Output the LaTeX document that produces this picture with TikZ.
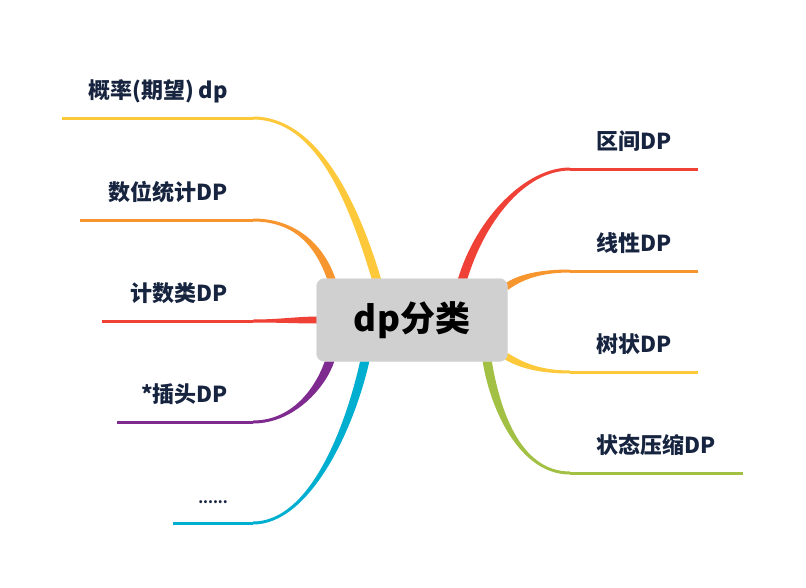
\documentclass[tikz,border=0pt]{standalone}
\usepackage{fontspec}
\setmainfont{Noto Sans CJK SC}
\usetikzlibrary{calc,backgrounds}
\definecolor{bred}{HTML}{EF4136}
\definecolor{borange}{HTML}{F7952F}
\definecolor{byellow}{HTML}{FDC83A}
\definecolor{bpurple}{HTML}{7F2A8F}
\definecolor{bcyan}{HTML}{00AECF}
\definecolor{bgreen}{HTML}{A1C044}
\definecolor{ink}{HTML}{17243F}
\definecolor{rootgray}{HTML}{D0D0D0}
% tapered limb: colour, start (under root), junction, c1 offset, c2 offset, half width at start (+ and -)
\newcommand{\limb}[7]{%
  \fill[#1] ([yshift=1.5pt]#3) .. controls +#4 and +#5 .. ([shift={#6}]#2)
    -- ([shift={#7}]#2) .. controls +#5 and +#4 .. ([yshift=-1.5pt]#3) -- cycle;}

\begin{document}
\begin{tikzpicture}[x=1pt,y=-1pt,
    leaf/.style={font=\bfseries\fontsize{22}{26}\selectfont,text=ink,inner sep=0pt},
    twig/.style={line width=3pt}]
      \useasboundingbox (0,0) rectangle (806,587);
      \node[fill=rootgray,draw=rootgray!80!white,rounded corners=8pt,minimum width=191pt,minimum height=83pt,
            font=\bfseries\fontsize{35}{40}\selectfont] (root) at (412,320) {dp分类};
      % left side
      \coordinate (j1) at (253,118); \coordinate (e1) at (62,118);
      \coordinate (j2) at (253,220); \coordinate (e2) at (80,220);
      \coordinate (j3) at (253,321); \coordinate (e3) at (102,321);
      \coordinate (j4) at (253,422); \coordinate (e4) at (117,422);
      \coordinate (j5) at (253,523); \coordinate (e5) at (173,523);
      % right side
      \coordinate (k1) at (570,169); \coordinate (f1) at (698,169);
      \coordinate (k2) at (570,271); \coordinate (f2) at (698,271);
      \coordinate (k3) at (570,372); \coordinate (f3) at (698,372);
      \coordinate (k4) at (570,473); \coordinate (f4) at (743,473);
      % starts under the root box
      \coordinate (s1) at ($(root)+(-35,-39)$);
      \coordinate (s2) at ($(root)+(-80,-39)$);
      \coordinate (s3) at ($(root)+(-93,0)$);
      \coordinate (s4) at ($(root)+(-82,40)$);
      \coordinate (s5) at ($(root)+(-47,40)$);
      \coordinate (t1) at ($(root)+(50,-39)$);
      \coordinate (t2) at ($(root)+(94,-33)$);
      \coordinate (t3) at ($(root)+(94,36)$);
      \coordinate (t4) at ($(root)+(75,40)$);
      \begin{scope}[on background layer]
      \limb{byellow}{s1}{j1}{(62,0)}{(-25,-84)}{(4.3,-1.3)}{(-4.3,1.3)}
      \limb{borange}{s2}{j2}{(42,0)}{(-12,-36)}{(3.8,-1.3)}{(-3.8,1.3)}
      \limb{bred}{s3}{j3}{(27,0)}{(-22,0)}{(0,-3.5)}{(0,3.5)}
      \limb{bpurple}{s4}{j4}{(42,0)}{(-8,25)}{(-4.3,-1.4)}{(4.3,1.4)}
      \limb{bcyan}{s5}{j5}{(57,0)}{(-15,68)}{(-4.4,-0.9)}{(4.4,0.9)}
      \limb{bred}{t1}{k1}{(-45,0)}{(18,-61)}{(-4.3,-1.3)}{(4.3,1.3)}
      \limb{borange}{t2}{k2}{(-30,0)}{(14,-10)}{(-2,-2.8)}{(2,2.8)}
      \limb{byellow}{t3}{k3}{(-30,0)}{(14,9)}{(1.9,-2.9)}{(-1.9,2.9)}
      \limb{bgreen}{t4}{k4}{(-50,0)}{(8,50)}{(4.5,-0.7)}{(-4.5,0.7)}
      \end{scope}
      \draw[twig,byellow] (e1) -- (j1);
      \draw[twig,borange] (e2) -- (j2);
      \draw[twig,bred]    (e3) -- (j3);
      \draw[twig,bpurple] (e4) -- (j4);
      \draw[twig,bcyan]   (e5) -- (j5);
      \draw[twig,bred]    (k1) -- (f1);
      \draw[twig,borange] (k2) -- (f2);
      \draw[twig,byellow] (k3) -- (f3);
      \draw[twig,bgreen]  (k4) -- (f4);
      \node[leaf,anchor=base east] (l1) at ($(j1)+(-25,-20)$) {概率(期望) dp};
      \node[leaf,anchor=base east] (l2) at ($(j2)+(-25,-20)$) {数位统计DP};
      \node[leaf,anchor=base east] (l3) at ($(j3)+(-25,-20)$) {计数类DP};
      \node[leaf,anchor=base east] (l4) at ($(j4)+(-25,-20)$) {*插头DP};
      \node[leaf,anchor=base east,font=\bfseries\fontsize{14}{16}\selectfont] (l5) at ($(j5)+(-25,-20)$) {......};
      \node[leaf,anchor=base west] (r1) at ($(k1)+(26,-20)$) {区间DP};
      \node[leaf,anchor=base west] (r2) at ($(k2)+(26,-20)$) {线性DP};
      \node[leaf,anchor=base west] (r3) at ($(k3)+(26,-20)$) {树状DP};
      \node[leaf,anchor=base west] (r4) at ($(k4)+(26,-20)$) {状态压缩DP};
\end{tikzpicture}
\end{document}
